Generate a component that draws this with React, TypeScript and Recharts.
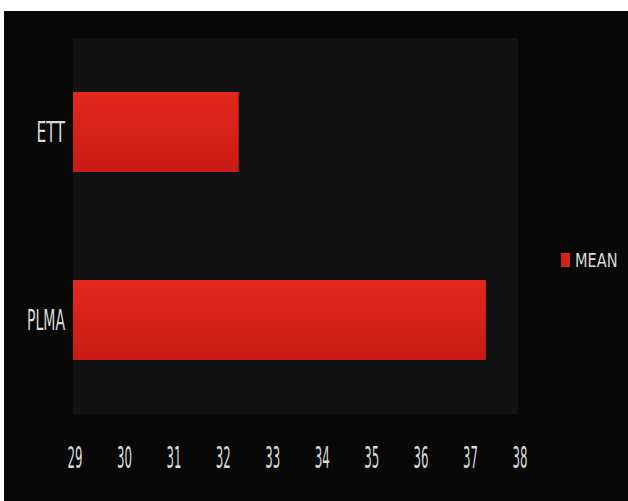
import React from "react";
import { Bar, BarChart, CartesianGrid, Legend, XAxis, YAxis } from "recharts";

const categories = ["ETT", "PLMA"];
const meanValues = [32.35, 37.35];
const xTicks = [29, 30, 31, 32, 33, 34, 35, 36, 37, 38];

const chartData = categories.map((name, i) => ({ name, MEAN: meanValues[i] }));

const FONT = "'Liberation Sans Narrow', 'DejaVu Sans Condensed', sans-serif";

// the picture is squished sideways, so stretch glyphs to the measured widths
const XTick = (props: any) => {
  const { x, y, payload } = props;
  return (
    <text
      x={x + 2}
      y={y}
      dy={46}
      textAnchor="middle"
      fill="#d9d9d9"
      fontFamily={FONT}
      fontSize={31}
      textLength={String(payload.value).length * 7.5}
      lengthAdjust="spacingAndGlyphs"
    >
      {payload.value}
    </text>
  );
};

const YTick = (props: any) => {
  const { x, y, payload } = props;
  const w = payload.value.length * 9.5;
  return (
    <text
      x={x}
      y={y}
      dy={10}
      textAnchor="end"
      fill="#d9d9d9"
      fontFamily={FONT}
      fontSize={28}
      textLength={w}
      lengthAdjust="spacingAndGlyphs"
    >
      {payload.value}
    </text>
  );
};

const LegendContent = () => (
  <div style={{ display: "flex", alignItems: "center" }}>
    <span
      style={{
        display: "inline-block",
        width: 10,
        height: 14,
        background: "#d42219",
        marginRight: 5,
      }}
    />
    <span
      style={{
        display: "inline-block",
        color: "#d9d9d9",
        fontFamily: FONT,
        fontSize: 19,
        lineHeight: "20px",
        whiteSpace: "nowrap",
        transform: "scaleX(0.85)",
        transformOrigin: "left center",
      }}
    >
      MEAN
    </span>
  </div>
);

export default function App() {
  return (
    <div
      style={{
        position: "absolute",
        left: 0,
        top: 0,
        width: 628,
        height: 501,
        background: "#ffffff",
        overflow: "hidden",
      }}
    >
      <div
        style={{
          position: "absolute",
          left: 4,
          top: 11,
          width: 624,
          height: 490,
          background: "#080808",
        }}
      />
      <div style={{ position: "absolute", left: 0, top: 0 }}>
        <BarChart
          width={628}
          height={501}
          layout="vertical"
          data={chartData}
          margin={{ top: 38, right: 110, bottom: 27, left: 0 }}
          barCategoryGap={54}
        >
          <defs>
            <linearGradient id="barRed" x1="0" y1="0" x2="0" y2="1">
              <stop offset="0%" stopColor="#e3281d" />
              <stop offset="100%" stopColor="#c81b14" />
            </linearGradient>
          </defs>
          <CartesianGrid
            horizontal={false}
            vertical={false}
            fill="#121212"
            stroke="none"
          />
          <XAxis
            type="number"
            domain={[29, 38]}
            ticks={xTicks}
            interval={0}
            axisLine={false}
            tickLine={false}
            height={60}
            tick={<XTick />}
          />
          <YAxis
            type="category"
            dataKey="name"
            width={73}
            axisLine={false}
            tickLine={false}
            tick={<YTick />}
          />
          <Legend
            layout="horizontal"
            verticalAlign="middle"
            align="center"
            content={<LegendContent />}
            wrapperStyle={{ position: "absolute", left: 561, top: 250, width: 64 }}
          />
          <Bar
            dataKey="MEAN"
            fill="url(#barRed)"
            barSize={80}
            isAnimationActive={false}
          />
        </BarChart>
      </div>
    </div>
  );
}
